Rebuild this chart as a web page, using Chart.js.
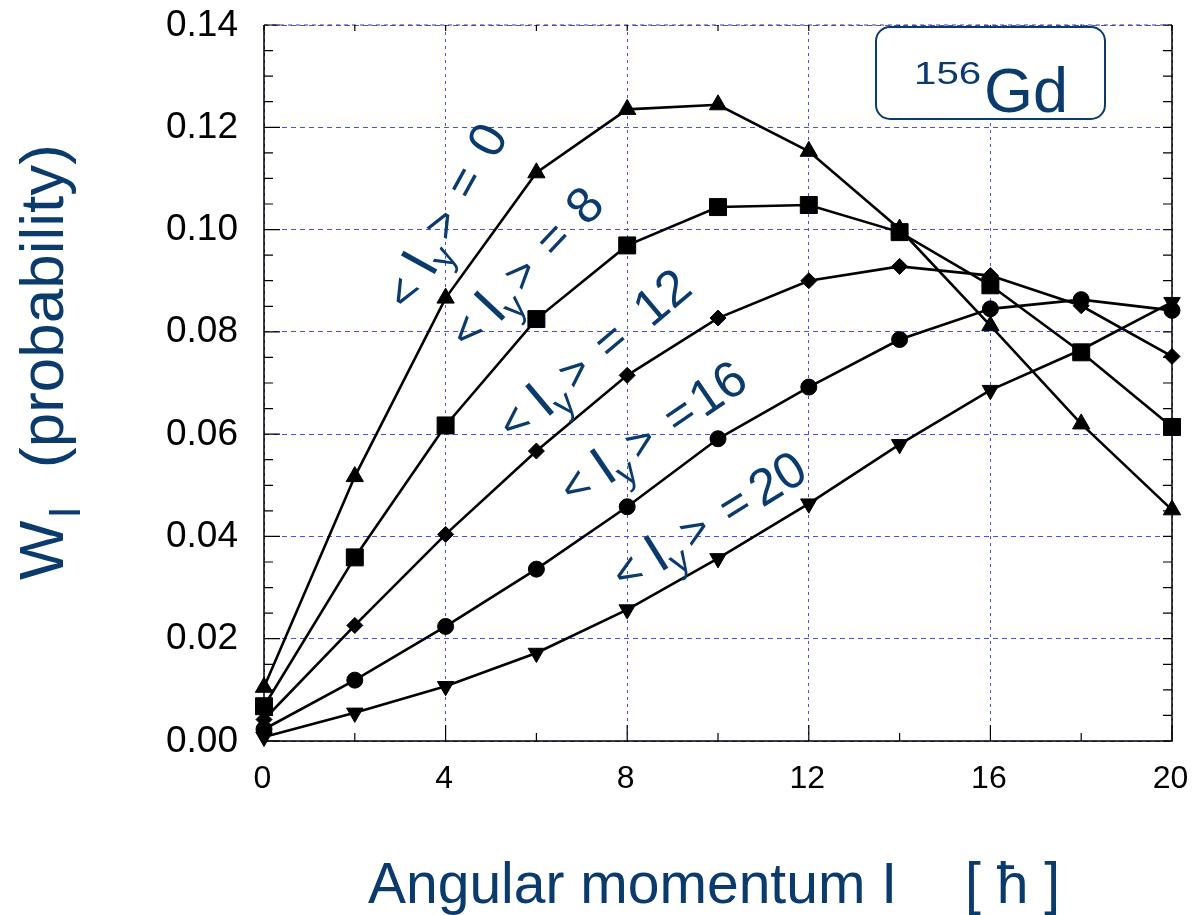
<!doctype html>
<html>
<head>
  <meta charset="utf-8">
  <script src="https://cdn.jsdelivr.net/npm/chart.js"></script>
  <style>
    html, body { margin: 0; padding: 0; background: #fff; }
    canvas { display: block; }
  </style>
</head>
<body>
  <canvas id="wChart" width="1194" height="915"></canvas>
  <script>
    // angular momentum I [hbar]
    var spins = [0, 2, 4, 6, 8, 10, 12, 14, 16, 18, 20];

    // W_I (probability) for each <I_y>
    var wIy0  = [0.0105, 0.0517, 0.0866, 0.1111, 0.1235, 0.1244, 0.1153, 0.1001, 0.0812, 0.0620, 0.0452];
    var wIy8  = [0.0068, 0.0359, 0.0617, 0.0825, 0.0969, 0.1044, 0.1048, 0.0995, 0.0891, 0.0760, 0.0614];
    var wIy12 = [0.0042, 0.0226, 0.0404, 0.0567, 0.0715, 0.0827, 0.0900, 0.0928, 0.0910, 0.0851, 0.0752];
    var wIy16 = [0.0023, 0.0119, 0.0224, 0.0336, 0.0458, 0.0591, 0.0692, 0.0785, 0.0845, 0.0863, 0.0842];
    var wIy20 = [0.0008, 0.0055, 0.0107, 0.0172, 0.0257, 0.0357, 0.0464, 0.0580, 0.0686, 0.0765, 0.0858];

    // axis ticks
    var xTickValues = [0, 4, 8, 12, 16, 20];
    var yTickValues = [0, 0.02, 0.04, 0.06, 0.08, 0.10, 0.12, 0.14];
    var yTickLabels = ['0.00', '0.02', '0.04', '0.06', '0.08', '0.10', '0.12', '0.14'];

    // curve annotations <I_y> = ...
    var iyValues = ['0', '8', '12', '16', '20'];

    var BLUE_TEXT = '#0a3b6c';
    var GRID_BLUE = '#4a4aff';
    var FONT = "'Liberation Sans', Arial, Helvetica, sans-serif";

    function series(values, style, radius, rotation) {
      return {
        data: spins.map(function (s, i) { return { x: s, y: values[i] }; }),
        showLine: true,
        borderColor: '#000',
        borderWidth: 2.6,
        pointStyle: style,
        pointRadius: radius,
        pointRotation: rotation || 0,
        pointBackgroundColor: '#000',
        pointBorderColor: '#000',
        pointBorderWidth: 1,
        clip: false
      };
    }

    // label placement: "<" centre x, y, angle, start of the number
    var iyLabelPos = [
      [406, 294, -61.2, 160],
      [469, 333, -46.9, 158],
      [516, 424, -40.1, 165],
      [577, 488, -34.3, 144],
      [629, 574, -31.8, 148]
    ];

    function drawIyLabel(ctx, pos, text) {
      ctx.save();
      ctx.translate(pos[0], pos[1]);
      ctx.rotate(pos[2] * Math.PI / 180);
      ctx.fillStyle = BLUE_TEXT;
      ctx.textBaseline = 'middle';
      ctx.textAlign = 'center';
      ctx.font = '46px ' + FONT;
      ctx.fillText('<', 0, 0);
      ctx.font = '56px ' + FONT;
      ctx.fillText('I', 34, 0);
      ctx.font = '36px ' + FONT;
      ctx.fillText('y', 50, 17);
      ctx.font = '46px ' + FONT;
      ctx.fillText('>', 79, 0);
      ctx.font = '48px ' + FONT;
      ctx.fillText('=', 126, 0);
      ctx.textAlign = 'left';
      ctx.font = '51px ' + FONT;
      ctx.fillText(text, pos[3], 0);
      ctx.restore();
    }

    var decorPlugin = {
      id: 'decor',
      afterDraw: function (chart) {
        var ctx = chart.ctx;
        var a = chart.chartArea;
        var xs = chart.scales.x;
        var ys = chart.scales.y;
        ctx.save();

        // frame
        ctx.strokeStyle = '#000';
        ctx.lineWidth = 1.5;
        ctx.beginPath();
        ctx.moveTo(a.left, a.top);
        ctx.lineTo(a.left, a.bottom);
        ctx.lineTo(a.right, a.bottom);
        ctx.lineTo(a.right, a.top);
        ctx.stroke();
        ctx.setLineDash([4, 4]);
        ctx.strokeStyle = '#3b3b80';
        ctx.lineWidth = 1.2;
        ctx.beginPath();
        ctx.moveTo(a.left, a.top);
        ctx.lineTo(a.right, a.top);
        ctx.stroke();
        ctx.setLineDash([]);

        // minor / major ticks
        ctx.strokeStyle = '#000';
        ctx.lineWidth = 1.2;
        ctx.beginPath();
        for (var k = 0; k <= 28; k++) {
          var py = ys.getPixelForValue(k * 0.005);
          var major = k % 4 === 0;
          ctx.moveTo(a.left, py);
          ctx.lineTo(a.left + (major ? 16 : 9), py);
          ctx.moveTo(a.right, py);
          ctx.lineTo(a.right - 9, py);
        }
        for (var s = 0; s <= 20; s += 2) {
          var px = xs.getPixelForValue(s);
          ctx.moveTo(px, a.bottom);
          ctx.lineTo(px, a.bottom - (s % 4 === 0 ? 16 : 8));
          ctx.moveTo(px, a.top);
          ctx.lineTo(px, a.top + 6);
        }
        ctx.stroke();

        // tick labels
        ctx.fillStyle = '#000';
        ctx.font = '37px ' + FONT;
        ctx.textAlign = 'right';
        ctx.textBaseline = 'alphabetic';
        ys.ticks.forEach(function (t, i) {
          ctx.fillText(yTickLabels[i], 238, ys.getPixelForValue(t.value) + 10.5);
        });
        ctx.font = '32px ' + FONT;
        ctx.textAlign = 'center';
        xs.ticks.forEach(function (t) {
          ctx.fillText(String(t.value), xs.getPixelForValue(t.value) - 1.5, 788);
        });

        // axis titles
        ctx.fillStyle = BLUE_TEXT;
        ctx.textAlign = 'left';
        ctx.font = '57px ' + FONT;
        ctx.fillText('Angular momentum I', 368, 903);
        ctx.fillText('[ \u0127 ]', 965, 903);

        ctx.save();
        ctx.translate(63, 580);
        ctx.rotate(-Math.PI / 2);
        ctx.font = '63px ' + FONT;
        ctx.fillText('W', 0, 0);
        var wW = ctx.measureText('W').width;
        ctx.font = '44px ' + FONT;
        ctx.fillText('I', wW + 2, 17);
        ctx.font = '62px ' + FONT;
        ctx.fillText('(probability)', 112, 0);
        ctx.restore();

        // nucleus box
        var bx = 876, by = 27, bw = 229, bh = 92, r = 14;
        ctx.beginPath();
        ctx.moveTo(bx + r, by);
        ctx.lineTo(bx + bw - r, by);
        ctx.arcTo(bx + bw, by, bx + bw, by + r, r);
        ctx.lineTo(bx + bw, by + bh - r);
        ctx.arcTo(bx + bw, by + bh, bx + bw - r, by + bh, r);
        ctx.lineTo(bx + r, by + bh);
        ctx.arcTo(bx, by + bh, bx, by + bh - r, r);
        ctx.lineTo(bx, by + r);
        ctx.arcTo(bx, by, bx + r, by, r);
        ctx.closePath();
        ctx.fillStyle = '#fff';
        ctx.fill();
        ctx.strokeStyle = BLUE_TEXT;
        ctx.lineWidth = 2;
        ctx.stroke();
        ctx.fillStyle = BLUE_TEXT;
        ctx.save();
        ctx.translate(914, 84);
        ctx.scale(1.3, 1);
        ctx.font = '31px ' + FONT;
        ctx.fillText('156', 0, 0);
        ctx.restore();
        ctx.font = '63px ' + FONT;
        ctx.fillText('Gd', 984, 112);

        // curve labels
        iyValues.forEach(function (v, i) { drawIyLabel(ctx, iyLabelPos[i], v); });

        ctx.restore();
      }
    };

    var ctx = document.getElementById('wChart').getContext('2d');
    var wChart = new Chart(ctx, {
      type: 'scatter',
      data: {
        datasets: [
          series(wIy0, 'triangle', 10),
          series(wIy8, 'rect', 12),
          series(wIy12, 'rectRot', 8),
          series(wIy16, 'circle', 8),
          series(wIy20, 'triangle', 9.5, 180)
        ]
      },
      options: {
        responsive: false,
        animation: false,
        devicePixelRatio: 1,
        layout: { padding: { left: 264, right: 22, top: 25, bottom: 174 } },
        plugins: { legend: { display: false }, tooltip: { enabled: false } },
        scales: {
          x: {
            type: 'linear',
            min: 0,
            max: 20,
            afterBuildTicks: function (scale) {
              scale.ticks = xTickValues.map(function (v) { return { value: v }; });
            },
            ticks: { display: false },
            grid: { color: GRID_BLUE, lineWidth: 1, drawTicks: false },
            border: { display: false, dash: [3, 4] }
          },
          y: {
            type: 'linear',
            min: 0,
            max: 0.14,
            afterBuildTicks: function (scale) {
              scale.ticks = yTickValues.map(function (v) { return { value: v }; });
            },
            ticks: { display: false },
            grid: { color: GRID_BLUE, lineWidth: 1, drawTicks: false },
            border: { display: false, dash: [5, 4] }
          }
        }
      },
      plugins: [decorPlugin]
    });
  </script>
</body>
</html>
